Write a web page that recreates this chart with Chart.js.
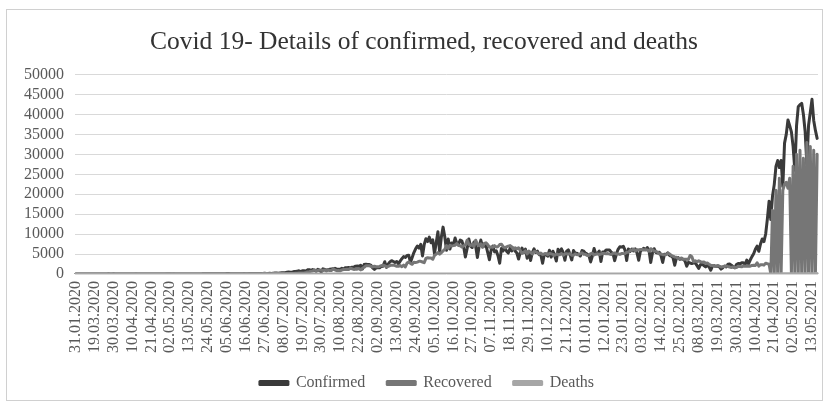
<!DOCTYPE html>
<html>
<head>
<meta charset="utf-8">
<script src="https://cdn.jsdelivr.net/npm/chart.js@4"></script>
<style>
  html, body { margin: 0; padding: 0; background: #fff; }
  #wrap { width: 826px; height: 405px; }
</style>
</head>
<body>
<div id="wrap"><canvas id="chart" width="826" height="405"></canvas></div>
<script>
// Dates printed under the horizontal axis (one every 11 reporting days)
const tickLabels = [
  '31.01.2020','19.03.2020','30.03.2020','10.04.2020','21.04.2020','02.05.2020','13.05.2020',
  '24.05.2020','05.06.2020','16.06.2020','27.06.2020','08.07.2020','19.07.2020','30.07.2020',
  '10.08.2020','22.08.2020','02.09.2020','13.09.2020','24.09.2020','05.10.2020','16.10.2020',
  '27.10.2020','07.11.2020','18.11.2020','29.11.2020','10.12.2020','21.12.2020','01.01.2021',
  '12.01.2021','23.01.2021','03.02.2021','14.02.2021','25.02.2021','08.03.2021','19.03.2021',
  '30.03.2021','10.04.2021','21.04.2021','02.05.2021','13.05.2021'
];
// Reporting days between the first two labelled dates, and after the last one
const leadInDates = ['03.02.2020','10.03.2020','11.03.2020','12.03.2020','13.03.2020',
  '14.03.2020','15.03.2020','16.03.2020','17.03.2020','18.03.2020'];
const tailDates = ['14.05.2021','15.05.2021','16.05.2021'];

// Daily new confirmed cases
const confirmed = [
  1,1,6,3,2,5,3,2,3,8,3,
  1,12,12,15,28,14,9,19,39,6,20,
  32,24,21,24,9,11,8,9,13,12,9,
  7,10,2,3,8,1,7,4,1,1,19,
  6,11,10,7,3,13,4,3,1,2,1,
  2,1,3,1,1,1,1,1,2,7,1,
  10,26,16,11,14,29,12,24,42,62,53,
  53,49,67,40,84,58,57,61,86,94,82,
  108,107,91,91,65,78,85,83,54,82,118,
  79,75,97,118,138,141,152,150,123,127,118,
  195,118,131,160,151,211,240,225,193,272,301,
  301,339,416,488,435,449,608,623,722,791,593,
  821,794,720,1038,1078,885,1103,927,702,1167,903,
  506,1310,1129,962,1083,1195,1251,1298,1420,1211,1184,
  1184,1417,1212,1564,1569,1608,1530,1725,1758,1968,1983,
  1908,2172,1242,2375,2476,2406,2397,2154,1530,1140,1547,
  1547,1553,1908,1950,3082,1648,2479,3026,3349,3139,2885,
  3139,2540,3215,3830,4351,4167,4644,4696,2910,4125,5376,
  6324,7006,6477,7445,4538,7354,8830,8135,9258,7834,8553,
  5042,7871,10606,5445,9250,11755,9347,5930,8764,6244,7789,
  7283,9016,7631,7482,8511,8253,6843,4287,6316,8790,7020,
  6638,7983,7025,4138,6862,8516,6820,7002,7201,5440,3593,
  6010,7007,5537,5804,4581,2710,6419,5792,6620,5722,5254,
  6419,5792,6491,5772,5254,3757,5420,6491,5378,6250,3966,
  5643,3382,5375,6316,5376,5718,4847,4777,2707,5032,4875,
  4470,5949,4235,5718,4698,3272,6185,5456,6293,5406,3453,
  5711,6049,4905,3527,5887,5177,5215,4905,4506,5887,5707,
  5215,4991,4600,3021,4506,6394,5051,5142,5771,3110,5507,
  5507,6004,6004,6006,5490,5173,3345,5005,6186,6815,6753,
  6960,6036,3361,6293,5659,6268,5771,6282,5266,3459,5716,
  6102,6451,6075,6630,5942,2884,5214,6341,5397,5281,5471,
  4612,2884,4937,4892,5317,4650,4505,4070,2212,4034,4106,
  3677,3792,3671,3254,1938,2938,2765,2616,2776,2791,2100,
  1412,2316,2475,2133,1780,2194,1792,954,1970,2098,1899,
  1984,1776,1239,1549,1989,1780,2456,2508,2216,1825,1549,
  2389,2653,2541,2798,2802,2357,3502,2541,3502,4353,5063,
  6194,6986,5692,7515,8778,8126,10031,13835,18257,13644,19577,
  22414,26995,28447,26685,28469,21890,32819,35013,38607,37199,35636,
  31959,26011,37190,41953,42464,42800,40000,35801,27487,37290,40500,
  43800,38500,36000,34000
];

// Daily recoveries
const recovered = [
  0,0,1,1,1,0,0,0,0,0,0,
  0,0,0,0,2,0,1,0,0,0,2,
  6,2,3,3,7,2,11,13,13,12,26,
  19,19,36,13,19,7,27,16,8,10,16,
  21,16,13,24,25,21,26,9,14,61,33,
  61,14,36,6,11,6,5,3,3,1,3,
  1,1,3,1,1,1,3,5,7,9,3,
  6,5,10,13,10,10,18,12,19,12,22,
  20,15,22,34,45,40,55,67,56,43,53,
  44,65,60,79,70,87,89,92,66,89,113,
  102,102,69,81,70,102,131,146,103,112,134,
  130,86,153,133,112,143,144,180,196,220,253,
  230,272,389,519,567,688,728,1049,735,880,1002,
  944,864,1000,736,1061,851,888,1307,1007,819,860,
  784,1024,1125,1134,1193,1149,1426,1304,1146,1245,1217,
  1342,1044,1442,1693,2064,2097,2058,1933,1766,1951,1819,
  1842,1899,2081,2210,2097,1761,1922,2125,2224,2215,2106,
  1952,1950,2111,1855,2227,1789,2737,3007,2655,2430,2921,
  2890,2981,3199,3181,3007,2828,3920,4091,3997,4009,3697,
  4640,4981,5371,4962,5370,5789,6161,7120,6417,7212,7000,
  7107,7226,7649,7144,7060,6737,7083,7227,8474,7469,7120,
  7469,6843,8474,7469,7120,7570,6700,7660,7818,7375,6693,
  6793,6698,7120,6793,6853,7375,7469,6853,6567,6793,7000,
  7120,6853,6201,6567,6305,6567,5902,5149,5425,5836,5022,
  5735,5425,5022,5637,5590,5329,4989,5260,4851,4989,5142,
  4851,5142,5066,4921,4705,5017,4898,4847,5129,4694,5066,
  5066,4985,5110,4728,4683,5029,4847,4895,5066,5324,4922,
  4922,4668,4668,5110,5226,4763,4985,5052,4895,5029,5124,
  5150,5100,5110,4985,4875,5170,5250,5005,5035,4912,5110,
  5110,5150,5440,5450,5890,5950,6260,5730,6112,6006,6141,
  6141,6006,6112,6012,5730,6340,6130,5745,5690,5511,5037,
  5037,4832,4850,4856,5170,5037,4652,4450,4290,4200,3910,
  3910,3988,3719,3680,3680,3656,4652,4332,3080,3290,3080,
  3290,3080,2960,3025,2650,2750,2450,2180,2150,1950,1900,
  2150,1950,1780,1850,1860,2020,1840,1730,1630,1750,1640,
  1640,1950,1880,1810,2010,1930,1920,2010,1960,2160,2190,
  2142,2812,1964,2335,2342,2227,2711,2580,2464,0,16000,
  0,21000,0,24000,0,21000,22500,23000,21500,24000,0,
  27000,0,30000,0,31000,0,29000,0,33000,0,32000,
  0,31000,0,30000
];

// Daily deaths
const deaths = [
  0,0,0,0,0,0,0,0,0,0,0,
  0,0,0,0,0,0,0,0,0,1,0,
  0,1,0,0,0,0,0,0,0,0,0,
  0,0,0,0,0,0,0,0,0,0,0,
  0,0,0,1,0,0,0,0,0,0,0,
  0,0,0,0,0,0,0,0,0,0,0,
  0,0,0,0,0,0,1,0,0,1,1,
  0,1,1,0,1,0,1,0,1,1,0,
  1,0,1,1,0,1,2,0,1,1,0,
  1,0,1,0,1,1,0,1,1,0,1,
  1,0,0,1,1,0,1,2,1,1,2,
  1,2,1,2,2,1,2,3,2,3,2,
  2,3,4,3,4,5,3,5,3,4,6,
  4,5,6,5,7,6,5,7,8,6,7,
  6,7,8,6,9,8,10,9,11,12,10,
  11,12,10,13,12,14,13,15,12,14,13,
  12,14,15,13,16,15,17,16,18,17,19,
  18,20,17,19,21,20,22,19,21,23,22,
  21,23,22,25,24,22,26,25,23,27,25,
  24,26,25,27,23,26,28,25,27,24,26,
  27,25,28,26,29,27,25,28,26,29,27,
  28,26,29,24,30,28,22,29,27,30,25,
  29,27,31,28,21,29,27,30,28,25,29,
  27,30,28,26,29,23,30,28,26,29,21,
  28,26,29,27,30,28,24,29,27,30,28,
  29,27,30,28,26,29,27,30,28,22,29,
  27,25,28,21,29,27,25,28,26,24,27,
  25,23,26,20,22,25,23,26,24,19,25,
  23,21,24,22,20,23,17,24,22,20,23,
  21,19,16,20,18,21,19,22,20,15,21,
  19,17,20,18,16,14,17,20,18,16,19,
  17,13,18,16,14,17,15,18,12,14,17,
  15,13,16,14,11,15,13,16,14,12,15,
  13,11,14,12,10,13,11,9,12,10,13,
  11,9,12,10,8,11,9,12,10,8,11,
  10,9,12,11,10,13,12,14,13,15,14,
  16,18,17,20,22,21,24,23,27,26,28,
  28,30,32,29,34,33,38,41,44,48,50,
  57,54,63,68,63,70,64,68,79,95,87,
  93,89,99,97
];

// Build the full list of reporting days from the labelled dates
function addDays(ddmmyyyy, n) {
  const [d, m, y] = ddmmyyyy.split('.').map(Number);
  const dt = new Date(Date.UTC(y, m - 1, d + n));
  const p = v => String(v).padStart(2, '0');
  return p(dt.getUTCDate()) + '.' + p(dt.getUTCMonth() + 1) + '.' + dt.getUTCFullYear();
}
const categories = [tickLabels[0], ...leadInDates];
for (let i = 1; i < tickLabels.length - 1; i++) {
  categories.push(tickLabels[i]);
  for (let k = 1; k <= 10; k++) categories.push(addDays(tickLabels[i], k));
}
categories.push(tickLabels[tickLabels.length - 1], ...tailDates);
const shownTicks = new Set(tickLabels);

const SERIF = '"Liberation Serif", "Times New Roman", serif';
const TEXT_GREY = '#595959';

// White page, thin frame, and centring of title/legend over the page
const framePlugin = {
  id: 'frame',
  afterLayout(chart) {
    const shiftBox = (box, dx) => { if (box) { box.left += dx; box.right += dx; } };
    shiftBox(chart.titleBlock, 10);
    shiftBox(chart.legend, 13);
  },
  beforeDraw(chart) {
    const c = chart.ctx;
    c.save();
    c.fillStyle = '#ffffff';
    c.fillRect(0, 0, chart.width, chart.height);
    c.restore();
  },
  afterDraw(chart) {
    const c = chart.ctx;
    c.save();
    c.strokeStyle = '#d0d0d0';
    c.lineWidth = 1;
    c.strokeRect(6.5, 9.5, chart.width - 10, chart.height - 14);
    c.restore();
  }
};

function lineSet(label, values, colour, order) {
  return {
    label, data: values,
    borderColor: colour, backgroundColor: colour,
    borderWidth: 3, pointRadius: 0, tension: 0,
    borderJoinStyle: 'round', borderCapStyle: 'round',
    fill: false, order
  };
}

new Chart(document.getElementById('chart'), {
  type: 'line',
  data: {
    labels: categories,
    datasets: [
      lineSet('Confirmed', confirmed, '#3a3a3a', 2),
      lineSet('Recovered', recovered, '#767676', 1),
      lineSet('Deaths', deaths, '#a6a6a6', 0)
    ]
  },
  plugins: [framePlugin],
  options: {
    responsive: false,
    animation: false,
    events: [],
    layout: { padding: { left: 10, right: 8, top: 0, bottom: 4 } },
    plugins: {
      title: {
        display: true,
        text: 'Covid 19- Details of confirmed, recovered and deaths',
        color: '#333333',
        font: { family: SERIF, size: 25.5, weight: 'normal' },
        padding: { top: 27, bottom: 17 }
      },
      legend: {
        position: 'bottom',
        labels: {
          boxWidth: 28, boxHeight: 3, padding: 22,
          color: TEXT_GREY,
          font: { family: SERIF, size: 16 },
          sort: (a, b) => a.datasetIndex - b.datasetIndex
        }
      },
      tooltip: { enabled: false }
    },
    scales: {
      x: {
        offset: true,
        grid: { display: false, drawTicks: false },
        border: { display: false },
        ticks: {
          autoSkip: false, minRotation: 90, maxRotation: 90, padding: 7,
          color: TEXT_GREY, font: { family: SERIF, size: 16 },
          callback: (v, i) => shownTicks.has(categories[i]) ? categories[i] : ''
        },
        afterFit(scale) {
          scale.height = 79;
          scale.paddingLeft = 0;
          scale.paddingRight = 0;
        }
      },
      y: {
        min: 0, max: 50000,
        grid: { color: '#d9d9d9', drawTicks: false, lineWidth: 1 },
        border: { display: false },
        ticks: {
          stepSize: 5000, padding: 11, autoSkip: false,
          color: TEXT_GREY, font: { family: SERIF, size: 16 },
          callback: v => String(v)
        },
        afterFit(scale) { scale.width = 65; }
      }
    }
  }
});
</script>
</body>
</html>
